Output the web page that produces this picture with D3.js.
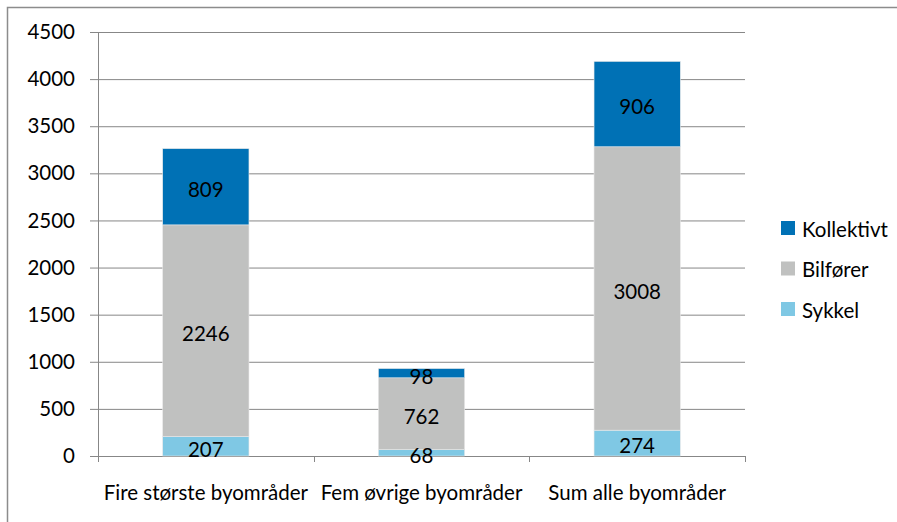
<!DOCTYPE html>
<html lang=no>
<meta charset=utf-8>
<title>Reisemiddel per byområde</title>
<style>
  body { margin: 0; background: #fff; }
  svg text { font-family: Lato, "Open Sans", sans-serif; fill: #000; }
</style>
<svg id=chart width=897 height=522></svg>
<script src="https://cdn.jsdelivr.net/npm/d3@7"></script>
<script>
// data
var categories = ["Fire største byområder", "Fem øvrige byområder", "Sum alle byområder"];
var series = ["Sykkel", "Bilfører", "Kollektivt"];
var sykkel = [207, 68, 274];
var bilforer = [2246, 762, 3008];
var kollektivt = [809, 98, 906];
var yTicks = [0, 500, 1000, 1500, 2000, 2500, 3000, 3500, 4000, 4500];

var colors = { "Sykkel": "#7fc8e4", "Bilfører": "#c0c1c0", "Kollektivt": "#0071b5" };
var fs = 20.5;

var svg = d3.select("#chart");
var margin = { left: 98, top: 32, right: 745, bottom: 456 };

// outer frame (runs off the right/bottom edge like the original)
svg.append("rect")
    .attr("x", 7.5).attr("y", 7.5)
    .attr("width", 920).attr("height", 540)
    .attr("fill", "none").attr("stroke", "#8c8c8c").attr("stroke-width", 1.5);

var rows = categories.map(function (c, i) {
    return { cat: c, "Sykkel": sykkel[i], "Bilfører": bilforer[i], "Kollektivt": kollektivt[i] };
});
var stacked = d3.stack().keys(series)(rows);

var x = d3.scaleBand().domain(categories).range([margin.left, margin.right]).paddingInner(0.6).paddingOuter(0.3);
var y = d3.scaleLinear().domain([0, 4500]).range([margin.bottom, margin.top]);

// gridlines + y tick marks
var gy = svg.append("g").attr("transform", "translate(" + margin.left + ",0)")
    .call(d3.axisLeft(y).tickValues(yTicks).tickSize(8).tickFormat(d3.format("d")));
gy.select(".domain").remove();
gy.selectAll(".tick line").attr("stroke", "#878787");
gy.selectAll(".tick").append("line")
    .attr("x1", 0).attr("x2", margin.right - margin.left)
    .attr("stroke", "#878787");
gy.selectAll(".tick text").attr("x", -23).attr("font-size", fs);

// axes lines
svg.append("line").attr("x1", margin.left + 0.5).attr("x2", margin.left + 0.5)
    .attr("y1", margin.top).attr("y2", margin.bottom + 6).attr("stroke", "#878787");
var xb = d3.scaleLinear().domain([0, categories.length]).range([margin.left, margin.right]);
svg.append("line").attr("x1", margin.left).attr("x2", margin.right)
    .attr("y1", margin.bottom + 0.5).attr("y2", margin.bottom + 0.5).attr("stroke", "#878787");
svg.append("g").selectAll("line").data(d3.range(categories.length + 1)).join("line")
    .attr("x1", function (d) { return Math.round(xb(d)) + 0.5; })
    .attr("x2", function (d) { return Math.round(xb(d)) + 0.5; })
    .attr("y1", margin.bottom).attr("y2", margin.bottom + 6)
    .attr("stroke", "#878787");

// bars
var layer = svg.append("g").selectAll("g").data(stacked).join("g")
    .attr("fill", function (d) { return colors[d.key]; });

layer.selectAll("rect").data(function (d) { return d; }).join("rect")
    .attr("x", function (d) { return x(d.data.cat); })
    .attr("width", x.bandwidth())
    .attr("y", function (d) { return y(d[1]); })
    .attr("height", function (d) { return y(d[0]) - y(d[1]); })
    .attr("stroke", "#e8e8e8").attr("stroke-width", 0.6);

// value labels, on top of everything
svg.append("g").selectAll("g").data(stacked).join("g")
  .selectAll("text").data(function (d) { return d; }).join("text")
    .attr("x", function (d) { return x(d.data.cat) + x.bandwidth() / 2; })
    .attr("y", function (d) { return (y(d[0]) + y(d[1])) / 2 + 3; })
    .attr("dy", "0.36em")
    .attr("text-anchor", "middle")
    .attr("font-size", fs)
    .text(function (d) { return d[1] - d[0]; });

// category labels
svg.append("g").selectAll("text").data(categories).join("text")
    .attr("x", function (d) { return x(d) + x.bandwidth() / 2; })
    .attr("y", 493).attr("dy", "0.36em")
    .attr("text-anchor", "middle").attr("font-size", fs)
    .text(function (d) { return d; });

// legend (top item is Kollektivt)
var legend = svg.append("g").selectAll("g").data(series.slice().reverse()).join("g")
    .attr("transform", function (d, i) { return "translate(781," + (228 + i * 40.5) + ")"; });
legend.append("rect").attr("x", 0).attr("y", -7).attr("width", 14).attr("height", 14)
    .attr("fill", function (d) { return colors[d]; });
legend.append("text").attr("x", 21).attr("y", 1.5).attr("dy", "0.36em").attr("font-size", fs)
    .text(function (d) { return d; });
</script>
